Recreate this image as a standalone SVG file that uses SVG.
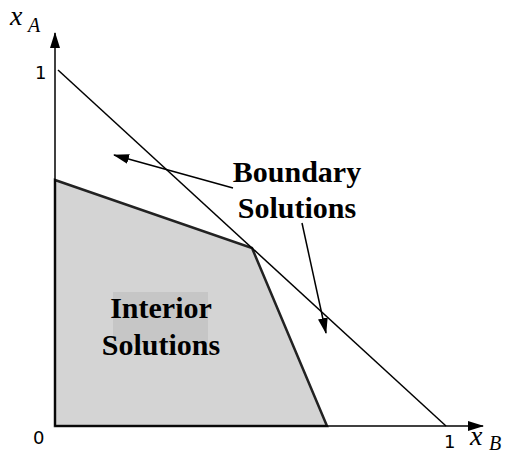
<svg xmlns="http://www.w3.org/2000/svg" width="524" height="455" viewBox="0 0 524 455">
<style>
.ax{stroke:#000;stroke-width:1.5;fill:none}
.ln{stroke:#000;stroke-width:1.5;fill:none}
.lbl{font-family:"DejaVu Sans","Liberation Sans",sans-serif;font-size:18px;fill:#000}
.math{font-family:"Liberation Serif","Times New Roman",serif;font-style:italic;font-size:28px;fill:#000}
.sub{font-family:"Liberation Serif","Times New Roman",serif;font-style:italic;font-size:20px;fill:#000}
.big{font-family:"Liberation Serif","Times New Roman",serif;font-weight:bold;font-size:30px;fill:#000;text-anchor:middle}
</style>
<defs>
<marker id="ah2" markerWidth="16" markerHeight="10" refX="15" refY="5" orient="auto" markerUnits="userSpaceOnUse">
<path d="M0,0 L16,5 L0,10 Z" fill="#000"/>
</marker>
</defs>
<g id="region">
<polygon points="55,180 252,248 327,426 55,426" fill="#d4d4d4" stroke="#222" stroke-width="2.5" stroke-linejoin="miter"/>
<rect x="113" y="292" width="95" height="52" fill="#c6c6c6"/>
</g>
<g id="connectors">
<line class="ax" x1="55" y1="426" x2="55" y2="33" marker-end="url(#ah2)"/>
<line class="ax" x1="55" y1="426" x2="483" y2="426" marker-end="url(#ah2)"/>
<line class="ln" x1="58" y1="70" x2="446" y2="426"/>
<line class="ln" x1="233" y1="188" x2="114" y2="155" marker-end="url(#ah2)"/>
<line class="ln" x1="302" y1="223" x2="326" y2="333" marker-end="url(#ah2)"/>
</g>
<g id="labels">
<text class="math" x="10" y="25">x</text>
<text class="sub" x="28" y="32">A</text>
<text class="lbl" x="35" y="79">1</text>
<text class="lbl" x="33" y="444">0</text>
<text class="lbl" x="444" y="448">1</text>
<text class="math" x="470" y="445">x</text>
<text class="sub" x="489" y="450" font-size="17">B</text>
</g>
<g id="boundary">
<text class="big" x="297" y="182">Boundary</text>
<text class="big" x="297" y="218">Solutions</text>
</g>
<g id="interior">
<text class="big" x="161" y="318">Interior</text>
<text class="big" x="161" y="355">Solutions</text>
</g>
</svg>
